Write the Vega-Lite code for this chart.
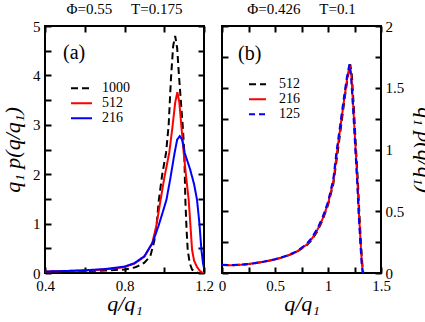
{
  "$schema": "https://vega.github.io/schema/vega-lite/v6.json",
  "padding": {"left": 0, "top": 1, "right": 0, "bottom": 0},
  "spacing": 2,
  "config": {
    "font": "Liberation Serif, Times New Roman, DejaVu Serif, serif",
    "view": {"stroke": "black", "strokeWidth": 2},
    "axis": {"domain": false, "grid": false, "tickColor": "black", "tickWidth": 2, "tickSize": -6,
      "labelFont": "Liberation Serif, Times New Roman, DejaVu Serif, serif", "labelFontSize": 15, "labelColor": "black", "labelFlush": false, "labelOverlap": false,
      "titleFont": "Liberation Serif, Times New Roman, DejaVu Serif, serif", "titleFontSize": 22, "titleFontStyle": "italic", "titleFontWeight": "normal", "titleColor": "black"},
    "title": {"font": "Liberation Serif, Times New Roman, DejaVu Serif, serif", "fontSize": 15, "fontWeight": "normal", "color": "black", "offset": 2}
  },
  "resolve": {"scale": {"color": "independent", "strokeDash": "independent"}},
  "datasets": {
    "a": [
      {"q": 0.40, "p": 0.02, "N": "1000"}, {"q": 0.50, "p": 0.025, "N": "1000"}, {"q": 0.60, "p": 0.035, "N": "1000"},
      {"q": 0.70, "p": 0.05, "N": "1000"}, {"q": 0.80, "p": 0.07, "N": "1000"}, {"q": 0.85, "p": 0.11, "N": "1000"},
      {"q": 0.88, "p": 0.16, "N": "1000"}, {"q": 0.90, "p": 0.21, "N": "1000"}, {"q": 0.93, "p": 0.34, "N": "1000"},
      {"q": 0.95, "p": 0.65, "N": "1000"}, {"q": 0.962, "p": 1.0, "N": "1000"}, {"q": 0.972, "p": 1.45, "N": "1000"},
      {"q": 0.99, "p": 2.0, "N": "1000"}, {"q": 1.009, "p": 2.43, "N": "1000"}, {"q": 1.022, "p": 2.98, "N": "1000"},
      {"q": 1.034, "p": 3.95, "N": "1000"}, {"q": 1.045, "p": 4.6, "N": "1000"}, {"q": 1.055, "p": 4.8, "N": "1000"},
      {"q": 1.065, "p": 4.55, "N": "1000"}, {"q": 1.074, "p": 4.0, "N": "1000"}, {"q": 1.085, "p": 3.4, "N": "1000"},
      {"q": 1.093, "p": 2.98, "N": "1000"}, {"q": 1.101, "p": 2.43, "N": "1000"}, {"q": 1.106, "p": 1.5, "N": "1000"},
      {"q": 1.112, "p": 0.9, "N": "1000"}, {"q": 1.118, "p": 0.47, "N": "1000"}, {"q": 1.128, "p": 0.2, "N": "1000"},
      {"q": 1.14, "p": 0.07, "N": "1000"}, {"q": 1.155, "p": 0.02, "N": "1000"}, {"q": 1.17, "p": 0.0, "N": "1000"},
      {"q": 1.2, "p": 0.0, "N": "1000"},
      {"q": 0.40, "p": 0.03, "N": "512"}, {"q": 0.50, "p": 0.04, "N": "512"}, {"q": 0.60, "p": 0.05, "N": "512"},
      {"q": 0.70, "p": 0.07, "N": "512"}, {"q": 0.80, "p": 0.12, "N": "512"}, {"q": 0.85, "p": 0.19, "N": "512"},
      {"q": 0.90, "p": 0.33, "N": "512"}, {"q": 0.94, "p": 0.61, "N": "512"}, {"q": 0.96, "p": 0.95, "N": "512"},
      {"q": 0.979, "p": 1.42, "N": "512"}, {"q": 1.0, "p": 1.92, "N": "512"}, {"q": 1.025, "p": 2.43, "N": "512"},
      {"q": 1.042, "p": 2.98, "N": "512"}, {"q": 1.055, "p": 3.45, "N": "512"}, {"q": 1.066, "p": 3.66, "N": "512"},
      {"q": 1.076, "p": 3.45, "N": "512"}, {"q": 1.086, "p": 2.98, "N": "512"}, {"q": 1.098, "p": 2.43, "N": "512"},
      {"q": 1.11, "p": 1.95, "N": "512"}, {"q": 1.123, "p": 1.48, "N": "512"}, {"q": 1.132, "p": 0.95, "N": "512"},
      {"q": 1.14, "p": 0.47, "N": "512"}, {"q": 1.15, "p": 0.25, "N": "512"}, {"q": 1.165, "p": 0.12, "N": "512"},
      {"q": 1.18, "p": 0.04, "N": "512"}, {"q": 1.19, "p": 0.01, "N": "512"}, {"q": 1.2, "p": 0.0, "N": "512"},
      {"q": 0.40, "p": 0.03, "N": "216"}, {"q": 0.50, "p": 0.04, "N": "216"}, {"q": 0.60, "p": 0.055, "N": "216"},
      {"q": 0.70, "p": 0.08, "N": "216"}, {"q": 0.80, "p": 0.13, "N": "216"}, {"q": 0.85, "p": 0.2, "N": "216"},
      {"q": 0.90, "p": 0.34, "N": "216"}, {"q": 0.94, "p": 0.6, "N": "216"}, {"q": 0.97, "p": 0.94, "N": "216"},
      {"q": 0.99, "p": 1.2, "N": "216"}, {"q": 1.011, "p": 1.48, "N": "216"}, {"q": 1.03, "p": 1.9, "N": "216"},
      {"q": 1.052, "p": 2.43, "N": "216"}, {"q": 1.065, "p": 2.7, "N": "216"}, {"q": 1.078, "p": 2.77, "N": "216"},
      {"q": 1.09, "p": 2.7, "N": "216"}, {"q": 1.103, "p": 2.43, "N": "216"}, {"q": 1.13, "p": 2.1, "N": "216"},
      {"q": 1.15, "p": 1.8, "N": "216"}, {"q": 1.165, "p": 1.48, "N": "216"}, {"q": 1.177, "p": 1.0, "N": "216"},
      {"q": 1.187, "p": 0.47, "N": "216"}, {"q": 1.195, "p": 0.2, "N": "216"}, {"q": 1.2, "p": 0.1, "N": "216"}
    ],
    "b": [
      {"q": 0.00, "p": 0.065, "N": "512"}, {"q": 0.10, "p": 0.063, "N": "512"}, {"q": 0.20, "p": 0.068, "N": "512"},
      {"q": 0.30, "p": 0.078, "N": "512"}, {"q": 0.40, "p": 0.092, "N": "512"}, {"q": 0.50, "p": 0.11, "N": "512"},
      {"q": 0.60, "p": 0.134, "N": "512"}, {"q": 0.70, "p": 0.168, "N": "512"}, {"q": 0.80, "p": 0.225, "N": "512"},
      {"q": 0.85, "p": 0.27, "N": "512"}, {"q": 0.90, "p": 0.34, "N": "512"}, {"q": 0.95, "p": 0.43, "N": "512"},
      {"q": 1.00, "p": 0.55, "N": "512"}, {"q": 1.05, "p": 0.72, "N": "512"}, {"q": 1.09, "p": 0.97, "N": "512"},
      {"q": 1.125, "p": 1.2, "N": "512"}, {"q": 1.155, "p": 1.4, "N": "512"}, {"q": 1.185, "p": 1.58, "N": "512"},
      {"q": 1.21, "p": 1.69, "N": "512"}, {"q": 1.225, "p": 1.6, "N": "512"}, {"q": 1.245, "p": 1.32, "N": "512"},
      {"q": 1.266, "p": 0.98, "N": "512"}, {"q": 1.282, "p": 0.74, "N": "512"}, {"q": 1.296, "p": 0.48, "N": "512"},
      {"q": 1.311, "p": 0.24, "N": "512"}, {"q": 1.323, "p": 0.08, "N": "512"}, {"q": 1.333, "p": 0.0, "N": "512"},
      {"q": 0.00, "p": 0.065, "N": "216"}, {"q": 0.10, "p": 0.063, "N": "216"}, {"q": 0.20, "p": 0.068, "N": "216"},
      {"q": 0.30, "p": 0.078, "N": "216"}, {"q": 0.40, "p": 0.092, "N": "216"}, {"q": 0.50, "p": 0.11, "N": "216"},
      {"q": 0.60, "p": 0.135, "N": "216"}, {"q": 0.70, "p": 0.17, "N": "216"}, {"q": 0.80, "p": 0.23, "N": "216"},
      {"q": 0.85, "p": 0.28, "N": "216"}, {"q": 0.90, "p": 0.35, "N": "216"}, {"q": 0.95, "p": 0.44, "N": "216"},
      {"q": 1.00, "p": 0.56, "N": "216"}, {"q": 1.05, "p": 0.74, "N": "216"}, {"q": 1.085, "p": 0.98, "N": "216"},
      {"q": 1.12, "p": 1.2, "N": "216"}, {"q": 1.15, "p": 1.39, "N": "216"}, {"q": 1.18, "p": 1.57, "N": "216"},
      {"q": 1.205, "p": 1.68, "N": "216"}, {"q": 1.22, "p": 1.6, "N": "216"}, {"q": 1.24, "p": 1.32, "N": "216"},
      {"q": 1.262, "p": 0.98, "N": "216"}, {"q": 1.278, "p": 0.74, "N": "216"}, {"q": 1.292, "p": 0.48, "N": "216"},
      {"q": 1.308, "p": 0.24, "N": "216"}, {"q": 1.32, "p": 0.08, "N": "216"}, {"q": 1.33, "p": 0.0, "N": "216"},
      {"q": 0.00, "p": 0.066, "N": "125"}, {"q": 0.10, "p": 0.064, "N": "125"}, {"q": 0.20, "p": 0.069, "N": "125"},
      {"q": 0.30, "p": 0.079, "N": "125"}, {"q": 0.40, "p": 0.093, "N": "125"}, {"q": 0.50, "p": 0.112, "N": "125"},
      {"q": 0.60, "p": 0.137, "N": "125"}, {"q": 0.70, "p": 0.173, "N": "125"}, {"q": 0.80, "p": 0.236, "N": "125"},
      {"q": 0.85, "p": 0.29, "N": "125"}, {"q": 0.90, "p": 0.36, "N": "125"}, {"q": 0.95, "p": 0.455, "N": "125"},
      {"q": 1.00, "p": 0.575, "N": "125"}, {"q": 1.05, "p": 0.76, "N": "125"}, {"q": 1.08, "p": 0.98, "N": "125"},
      {"q": 1.115, "p": 1.2, "N": "125"}, {"q": 1.145, "p": 1.39, "N": "125"}, {"q": 1.175, "p": 1.57, "N": "125"},
      {"q": 1.202, "p": 1.69, "N": "125"}, {"q": 1.217, "p": 1.6, "N": "125"}, {"q": 1.237, "p": 1.32, "N": "125"},
      {"q": 1.259, "p": 0.98, "N": "125"}, {"q": 1.275, "p": 0.74, "N": "125"}, {"q": 1.289, "p": 0.48, "N": "125"},
      {"q": 1.305, "p": 0.24, "N": "125"}, {"q": 1.317, "p": 0.08, "N": "125"}, {"q": 1.327, "p": 0.0, "N": "125"}
    ]
  },
  "hconcat": [
    {
      "width": 159,
      "height": 247,
      "title": {"text": "Φ=0.55\u00a0\u00a0\u00a0\u00a0\u00a0T=0.175"},
      "data": {"name": "a"},
      "resolve": {"axis": {"x": "independent", "y": "independent"}},
      "layer": [
        {
          "mark": {"type": "line", "strokeWidth": 2, "clip": true},
          "encoding": {
            "x": {"field": "q", "type": "quantitative", "scale": {"domain": [0.4, 1.2], "nice": false, "zero": false},
              "axis": {"orient": "bottom", "values": [0.4, 0.6, 0.8, 1.0, 1.2], "labelPadding": 11,
                "labelExpr": "round(datum.value*10)%4==0 ? format(datum.value,'.1f') : ''", "title": "q/q₁", "titlePadding": 0}},
            "y": {"field": "p", "type": "quantitative", "scale": {"domain": [0, 5], "nice": false},
              "axis": {"orient": "left", "values": [0, 0.5, 1, 1.5, 2, 2.5, 3, 3.5, 4, 4.5, 5], "labelPadding": 11,
                "labelExpr": "datum.value%1==0 ? format(datum.value,'d') : ''", "title": "q₁ p(q/q₁)", "titlePadding": 8}},
            "color": {"field": "N", "type": "nominal", "scale": {"domain": ["1000", "512", "216"], "range": ["black", "red", "blue"]},
              "legend": {"title": "(a)", "orient": "none", "legendX": 18, "legendY": 17, "symbolType": "stroke", "symbolSize": 441,
                "symbolStrokeWidth": 2, "symbolOffset": 7, "clipHeight": 14.5, "rowPadding": 0, "labelOffset": 9,
                "labelFontSize": 14, "labelFont": "Liberation Serif, Times New Roman, DejaVu Serif, serif", "labelColor": "black", "titleFontSize": 20, "titleFont": "Liberation Serif, Times New Roman, DejaVu Serif, serif",
                "titleFontWeight": "normal", "titleColor": "black", "titlePadding": 18, "padding": 0}},
            "strokeDash": {"field": "N", "type": "nominal", "scale": {"domain": ["1000", "512", "216"], "range": [[7, 4], [1, 0], [1, 0]]},
              "legend": {"title": "(a)", "orient": "none", "legendX": 18, "legendY": 17, "symbolType": "stroke", "symbolSize": 441,
                "symbolStrokeWidth": 2, "symbolOffset": 7, "clipHeight": 14.5, "rowPadding": 0, "labelOffset": 9,
                "labelFontSize": 14, "labelFont": "Liberation Serif, Times New Roman, DejaVu Serif, serif", "labelColor": "black", "titleFontSize": 20, "titleFont": "Liberation Serif, Times New Roman, DejaVu Serif, serif",
                "titleFontWeight": "normal", "titleColor": "black", "titlePadding": 18, "padding": 0}}
          }
        },
        {
          "mark": {"type": "point", "opacity": 0},
          "encoding": {
            "x": {"field": "q", "type": "quantitative", "scale": {"domain": [0.4, 1.2], "nice": false, "zero": false},
              "axis": {"orient": "top", "values": [0.4, 0.6, 0.8, 1.0, 1.2], "labels": false, "title": null, "minExtent": 0, "maxExtent": 0}},
            "y": {"field": "p", "type": "quantitative", "scale": {"domain": [0, 5], "nice": false},
              "axis": {"orient": "right", "values": [0, 0.5, 1, 1.5, 2, 2.5, 3, 3.5, 4, 4.5, 5], "labels": false, "title": null, "minExtent": 0, "maxExtent": 0}}
          }
        }
      ]
    },
    {
      "width": 159,
      "height": 247,
      "title": {"text": "Φ=0.426\u00a0\u00a0\u00a0\u00a0\u00a0T=0.1"},
      "data": {"name": "b"},
      "resolve": {"axis": {"x": "independent", "y": "independent"}},
      "layer": [
        {
          "mark": {"type": "line", "strokeWidth": 2, "clip": true},
          "encoding": {
            "x": {"field": "q", "type": "quantitative", "scale": {"domain": [0, 1.5], "nice": false, "zero": false},
              "axis": {"orient": "bottom", "values": [0, 0.25, 0.5, 0.75, 1, 1.25, 1.5], "labelPadding": 11,
                "labelExpr": "round(datum.value*4)%2==0 ? format(datum.value,'~g') : ''", "title": "q/q₁", "titlePadding": 0}},
            "y": {"field": "p", "type": "quantitative", "scale": {"domain": [0, 2], "nice": false},
              "axis": {"orient": "right", "values": [0, 0.25, 0.5, 0.75, 1, 1.25, 1.5, 1.75, 2], "labelPadding": 10,
                "labelExpr": "round(datum.value*4)%2==0 ? format(datum.value,'~g') : ''", "title": "q₁ p(q/q₁)", "titlePadding": 9}},
            "color": {"field": "N", "type": "nominal", "scale": {"domain": ["512", "216", "125"], "range": ["black", "red", "blue"]},
              "legend": {"title": "(b)", "orient": "none", "legendX": 16, "legendY": 18, "symbolType": "stroke", "symbolSize": 289,
                "symbolStrokeWidth": 2, "symbolOffset": 10, "clipHeight": 14.5, "rowPadding": 0, "labelOffset": 12,
                "labelFontSize": 14, "labelFont": "Liberation Serif, Times New Roman, DejaVu Serif, serif", "labelColor": "black", "titleFontSize": 20, "titleFont": "Liberation Serif, Times New Roman, DejaVu Serif, serif",
                "titleFontWeight": "normal", "titleColor": "black", "titlePadding": 13, "padding": 0}},
            "strokeDash": {"field": "N", "type": "nominal", "scale": {"domain": ["512", "216", "125"], "range": [[7, 4], [1, 0], [6, 4]]},
              "legend": {"title": "(b)", "orient": "none", "legendX": 16, "legendY": 18, "symbolType": "stroke", "symbolSize": 289,
                "symbolStrokeWidth": 2, "symbolOffset": 10, "clipHeight": 14.5, "rowPadding": 0, "labelOffset": 12,
                "labelFontSize": 14, "labelFont": "Liberation Serif, Times New Roman, DejaVu Serif, serif", "labelColor": "black", "titleFontSize": 20, "titleFont": "Liberation Serif, Times New Roman, DejaVu Serif, serif",
                "titleFontWeight": "normal", "titleColor": "black", "titlePadding": 13, "padding": 0}}
          }
        },
        {
          "mark": {"type": "point", "opacity": 0},
          "encoding": {
            "x": {"field": "q", "type": "quantitative", "scale": {"domain": [0, 1.5], "nice": false, "zero": false},
              "axis": {"orient": "top", "values": [0, 0.25, 0.5, 0.75, 1, 1.25, 1.5], "labels": false, "title": null, "minExtent": 0, "maxExtent": 0}},
            "y": {"field": "p", "type": "quantitative", "scale": {"domain": [0, 2], "nice": false},
              "axis": {"orient": "left", "values": [0, 0.25, 0.5, 0.75, 1, 1.25, 1.5, 1.75, 2], "labels": false, "title": null, "minExtent": 0, "maxExtent": 0}}
          }
        }
      ]
    }
  ]
}
